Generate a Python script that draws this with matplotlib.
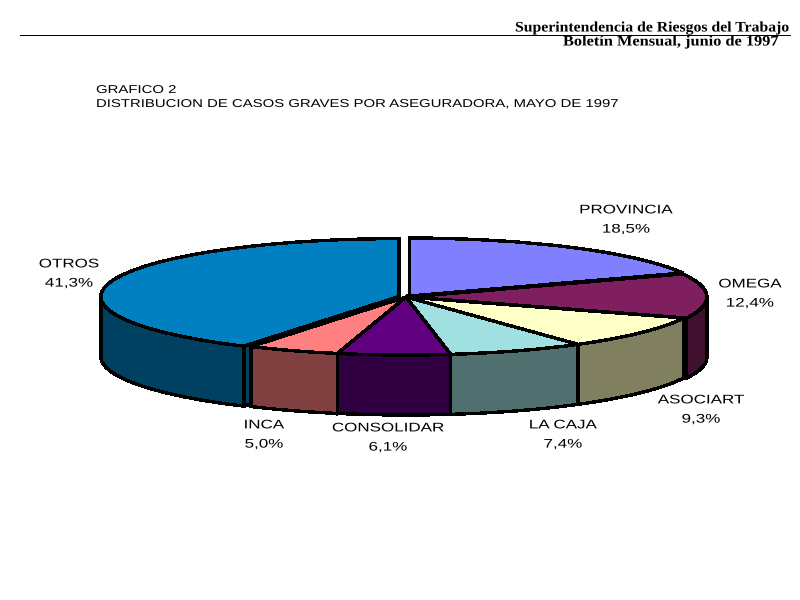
import numpy as np
import matplotlib
matplotlib.use('Agg')
import matplotlib.pyplot as plt
import matplotlib.patheffects as pe
from matplotlib.transforms import Affine2D

names = ['PROVINCIA', 'OMEGA', 'ASOCIART', 'LA CAJA', 'CONSOLIDAR', 'INCA', 'OTROS']
values = [18.5, 12.4, 9.3, 7.4, 6.1, 5.0, 41.3]
pct_labels = ['18,5%', '12,4%', '9,3%', '7,4%', '6,1%', '5,0%', '41,3%']
top_colors = ['#8080FF', '#7F1F5F', '#FFFFC8', '#A0E0E0', '#600080', '#FF8080', '#0080C0']
side_colors = ['#404080', '#40102F', '#808060', '#507070', '#300040', '#804040', '#004060']
explode = [0.02, 0.01, 0, 0, 0, 0, 0.025]
label_px = [(626, 220), (750, 294), (701, 410), (563, 435), (388, 438), (264, 435), (69, 274)]

W, H = 800, 600
cx, cy = 406, 297      # centre of the pie top, pixels
rx, ry = 298, 58       # radii of the pie top, pixels
depth = 60 / ry        # height of the side wall in axis units
edge = 1.7


class Stretch(pe.AbstractPathEffect):
    # the reference text is much wider than any installed font
    def __init__(self, sx, centre=True):
        super().__init__()
        self.sx = sx
        self.centre = centre

    def draw_path(self, renderer, gc, tpath, affine, rgbFace=None):
        c = tpath.get_extents().x0 + tpath.get_extents().width / 2 if self.centre else 0
        stretch = Affine2D().translate(-c, 0).scale(self.sx, 1).translate(c, 0)
        renderer.draw_path(gc, tpath, stretch + affine, rgbFace)


fig = plt.figure(figsize=(8, 6), dpi=100)
ax = fig.add_axes([0, 0, 1, 1])

wedges, _ = ax.pie(values, colors=top_colors, explode=explode, startangle=90, counterclock=False,
                   wedgeprops={'edgecolor': 'black', 'linewidth': edge, 'zorder': 3, 'antialiased': False})
ax.set_aspect('auto')
ax.set_xlim(-cx / rx, (W - cx) / rx)
ax.set_ylim((cy - H) / ry, cy / ry)
ax.axis('off')

# side walls: only the part of each slice on the front of the pie shows
fracs = np.cumsum([0] + values) / sum(values) * 360
for i in range(len(values)):
    a0 = max(fracs[i], 90)
    a1 = min(fracs[i + 1], 270)
    if a1 <= a0:
        continue
    mid = np.radians((fracs[i] + fracs[i + 1]) / 2)
    ox = explode[i] * np.sin(mid)
    oy = explode[i] * np.cos(mid)
    t = np.radians(np.linspace(a0, a1, 60))
    x = ox + np.sin(t)
    y = oy + np.cos(t)
    ax.fill(np.r_[x, x[::-1]], np.r_[y, y[::-1] - depth], facecolor=side_colors[i],
            edgecolor='black', linewidth=edge, zorder=2, antialiased=False)
    # cut face seen through the gap left by the exploded slice
    if fracs[i] > 180:
        rim_x, rim_y = x[0], y[0]
        ax.fill([rim_x, ox, ox, rim_x], [rim_y, oy, oy - depth, rim_y - depth], facecolor=side_colors[i],
                edgecolor='black', linewidth=edge, zorder=1, antialiased=False)


def put_text(x, y, s, family, size, sx, ha='left', **kw):
    fig.text(x / W, 1 - y / H, s, ha=ha, va='center', family=family, fontsize=size,
             path_effects=[Stretch(sx, centre=ha == 'center')], **kw)


# labels
for i in range(len(names)):
    put_text(label_px[i][0], label_px[i][1], names[i] + '\n' + pct_labels[i], 'Liberation Sans', 9, 1.36,
             ha='center', linespacing=1.8)

# header
fig.add_artist(plt.Line2D([20 / W, 790 / W], [1 - 35 / H, 1 - 35 / H], color='black', linewidth=0.7,
                          antialiased=False))
put_text(515, 28, 'Superintendencia de Riesgos del Trabajo', 'Liberation Serif', 10.5, 1.08, weight='bold')
put_text(563, 42, 'Boletín Mensual, junio de 1997', 'Liberation Serif', 10.5, 1.12, weight='bold')

# title
put_text(96, 90, 'GRAFICO 2', 'Liberation Sans', 8.2, 1.31)
put_text(96, 104, 'DISTRIBUCION DE CASOS GRAVES POR ASEGURADORA, MAYO DE 1997', 'Liberation Sans', 8.2, 1.31)

fig.savefig('out.png', dpi=100)
